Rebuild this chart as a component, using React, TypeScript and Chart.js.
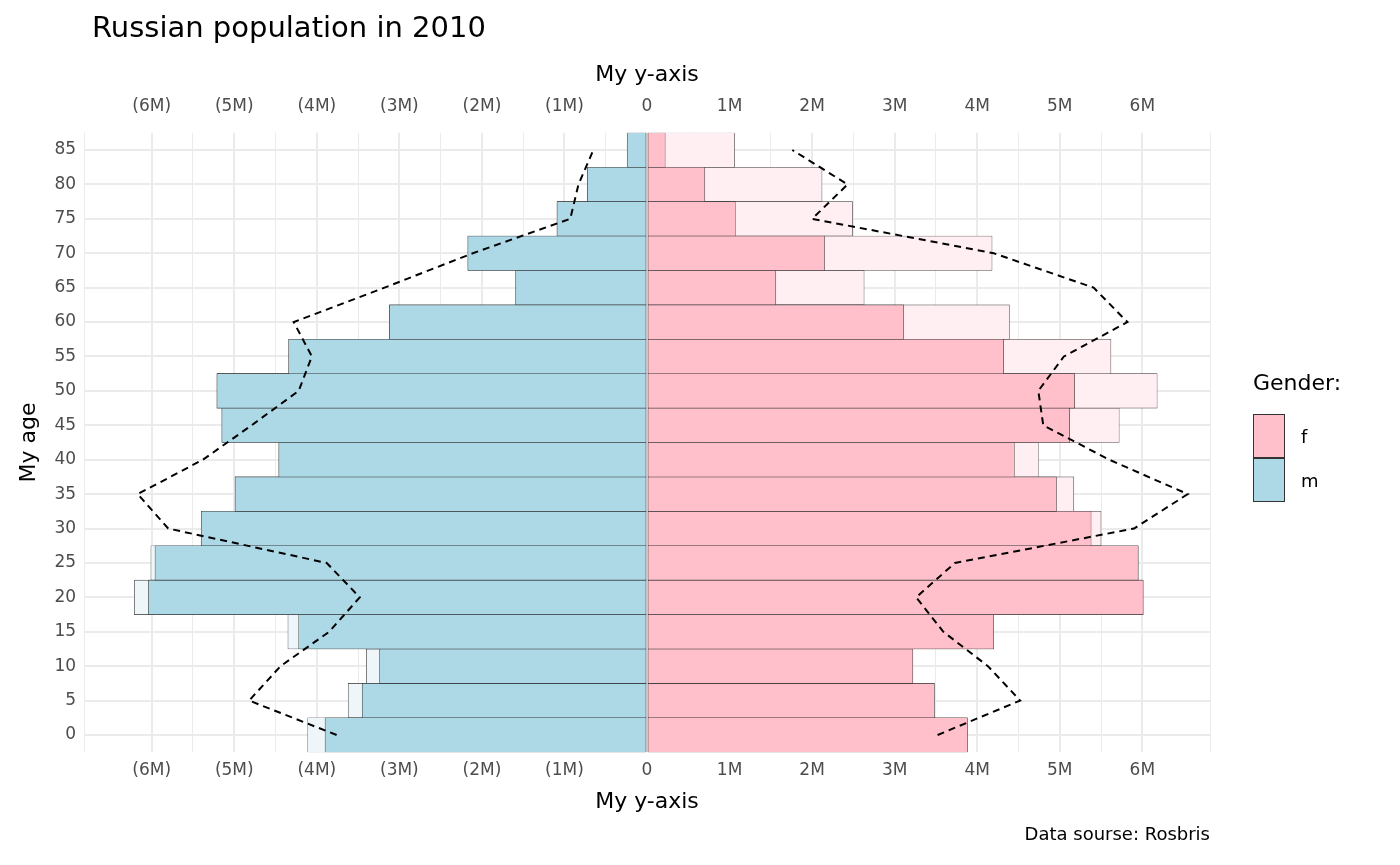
import React, { useEffect, useRef } from "react";
import { Chart, registerables } from "chart.js";
Chart.register(...registerables);

const ages = ["0","5","10","15","20","25","30","35","40","45","50","55","60","65","70","75","80","85"];
const maleMain = [3.90,3.45,3.24,4.22,6.04,5.96,5.40,4.99,4.46,5.15,5.21,4.34,3.12,1.59,2.17,1.09,0.72,0.24];
const maleLight = [4.11,3.62,3.40,4.35,6.21,6.01,5.40,4.99,4.46,5.15,5.21,4.34,3.12,1.59,2.17,1.09,0.72,0.24];
const femaleMain = [3.88,3.48,3.22,4.20,6.01,5.95,5.38,4.96,4.45,5.12,5.18,4.32,3.11,1.56,2.15,1.07,0.70,0.22];
const femaleLight = [3.88,3.48,3.22,4.20,6.01,5.95,5.50,5.17,4.74,5.72,6.18,5.62,4.39,2.63,4.18,2.49,2.12,1.06];
const maleLine = [3.76,4.82,4.44,3.85,3.48,3.88,5.80,6.17,5.38,4.79,4.22,4.06,4.28,3.18,2.11,0.93,0.83,0.65];
const femaleLine = [3.52,4.52,4.13,3.59,3.26,3.73,5.90,6.55,5.60,4.80,4.74,5.05,5.82,5.41,4.20,2.00,2.43,1.76];

const PINK = "#FFC0CB", BLUE = "#ADD8E6";
const fmt = (v: number) => {
  if (Math.abs(v - Math.round(v)) > 1e-6) return "";
  const r = Math.round(v);
  if (r === 0) return "0";
  return r < 0 ? `(${-r}M)` : `${r}M`;
};
const FONT = "'DejaVu Sans', sans-serif";

export default function App() {
  const ref = useRef<HTMLCanvasElement>(null);
  useEffect(() => {
    document.body.style.margin = "0";
    const grid = {
      color: "#EBEBEB",
      lineWidth: (c: any) => (c.tick && Math.abs(c.tick.value - Math.round(c.tick.value)) < 1e-6 ? 2 : 1),
      drawTicks: false,
    };
    const xCommon = {
      type: "linear" as const,
      min: -6.82, max: 6.82,
      border: { display: false },
      ticks: { stepSize: 0.5, autoSkip: false, maxRotation: 0, minRotation: 0, callback: (v: any) => fmt(Number(v)), color: "#4D4D4D", font: { size: 17, family: FONT }, padding: 8 },
    };
    const bar = { borderColor: "#333", borderWidth: 0.6, borderSkipped: false, grouped: false, barPercentage: 1, categoryPercentage: 1 };
    const chart = new Chart(ref.current!, {
      type: "bar",
      data: {
        labels: ages,
        datasets: [
          { type: "line", data: maleLine.map(v => -v), borderColor: "#000", borderWidth: 2, borderDash: [7, 5], pointRadius: 0, order: 0, xAxisID: "x" } as any,
          { type: "line", data: femaleLine, borderColor: "#000", borderWidth: 2, borderDash: [7, 5], pointRadius: 0, order: 0, xAxisID: "x" } as any,
          { ...bar, data: maleMain.map(v => -v), backgroundColor: BLUE, order: 2 },
          { ...bar, data: femaleMain, backgroundColor: PINK, order: 2 },
          { ...bar, data: maleLight.map(v => -v), backgroundColor: "#EEF6F9", order: 3 },
          { ...bar, data: femaleLight, backgroundColor: "#FFEEF2", order: 3 },
        ],
      },
      options: {
        indexAxis: "y",
        animation: false,
        responsive: false,
        layout: { padding: { left: 12, right: 190, top: 62, bottom: 50 } },
        plugins: { legend: { display: false }, tooltip: { enabled: false } },
        scales: {
          x: { ...xCommon, position: "bottom", grid, title: { display: true, text: "My y-axis", color: "#000", font: { size: 22, family: FONT }, padding: 0 } },
          x2: { ...xCommon, position: "top", grid: { display: false }, title: { display: true, text: "My y-axis", color: "#000", font: { size: 22, family: FONT }, padding: 0 } },
          y: {
            reverse: true,
            border: { display: false },
            grid: { color: "#EBEBEB", lineWidth: 2, offset: false, drawTicks: false },
            ticks: { color: "#4D4D4D", font: { size: 17, family: FONT }, padding: 8 },
            title: { display: true, text: "My age", color: "#000", font: { size: 22, family: FONT }, padding: 4 },
          },
        },
      } as any,
    });
    return () => chart.destroy();
  }, []);
  const sq = (c: string) => ({ width: 32, height: 44, background: c, border: "1px solid #333", boxSizing: "border-box" as const });
  return (
    <div style={{ position: "relative", width: 1400, height: 865, fontFamily: FONT }}>
      <canvas ref={ref} width={1400} height={865} />
      <div style={{ position: "absolute", left: 92, top: 10, fontSize: 29 }}>Russian population in 2010</div>
      <div style={{ position: "absolute", left: 1253, top: 370, fontSize: 22 }}>Gender:</div>
      <div style={{ position: "absolute", left: 1253, top: 414 }}>
        <div style={{ display: "flex", alignItems: "center" }}><div style={sq(PINK)} /><span style={{ marginLeft: 16, fontSize: 18 }}>f</span></div>
        <div style={{ display: "flex", alignItems: "center" }}><div style={sq(BLUE)} /><span style={{ marginLeft: 16, fontSize: 18 }}>m</span></div>
      </div>
      <div style={{ position: "absolute", right: 190, top: 823, fontSize: 18 }}>Data sourse: Rosbris</div>
    </div>
  );
}
